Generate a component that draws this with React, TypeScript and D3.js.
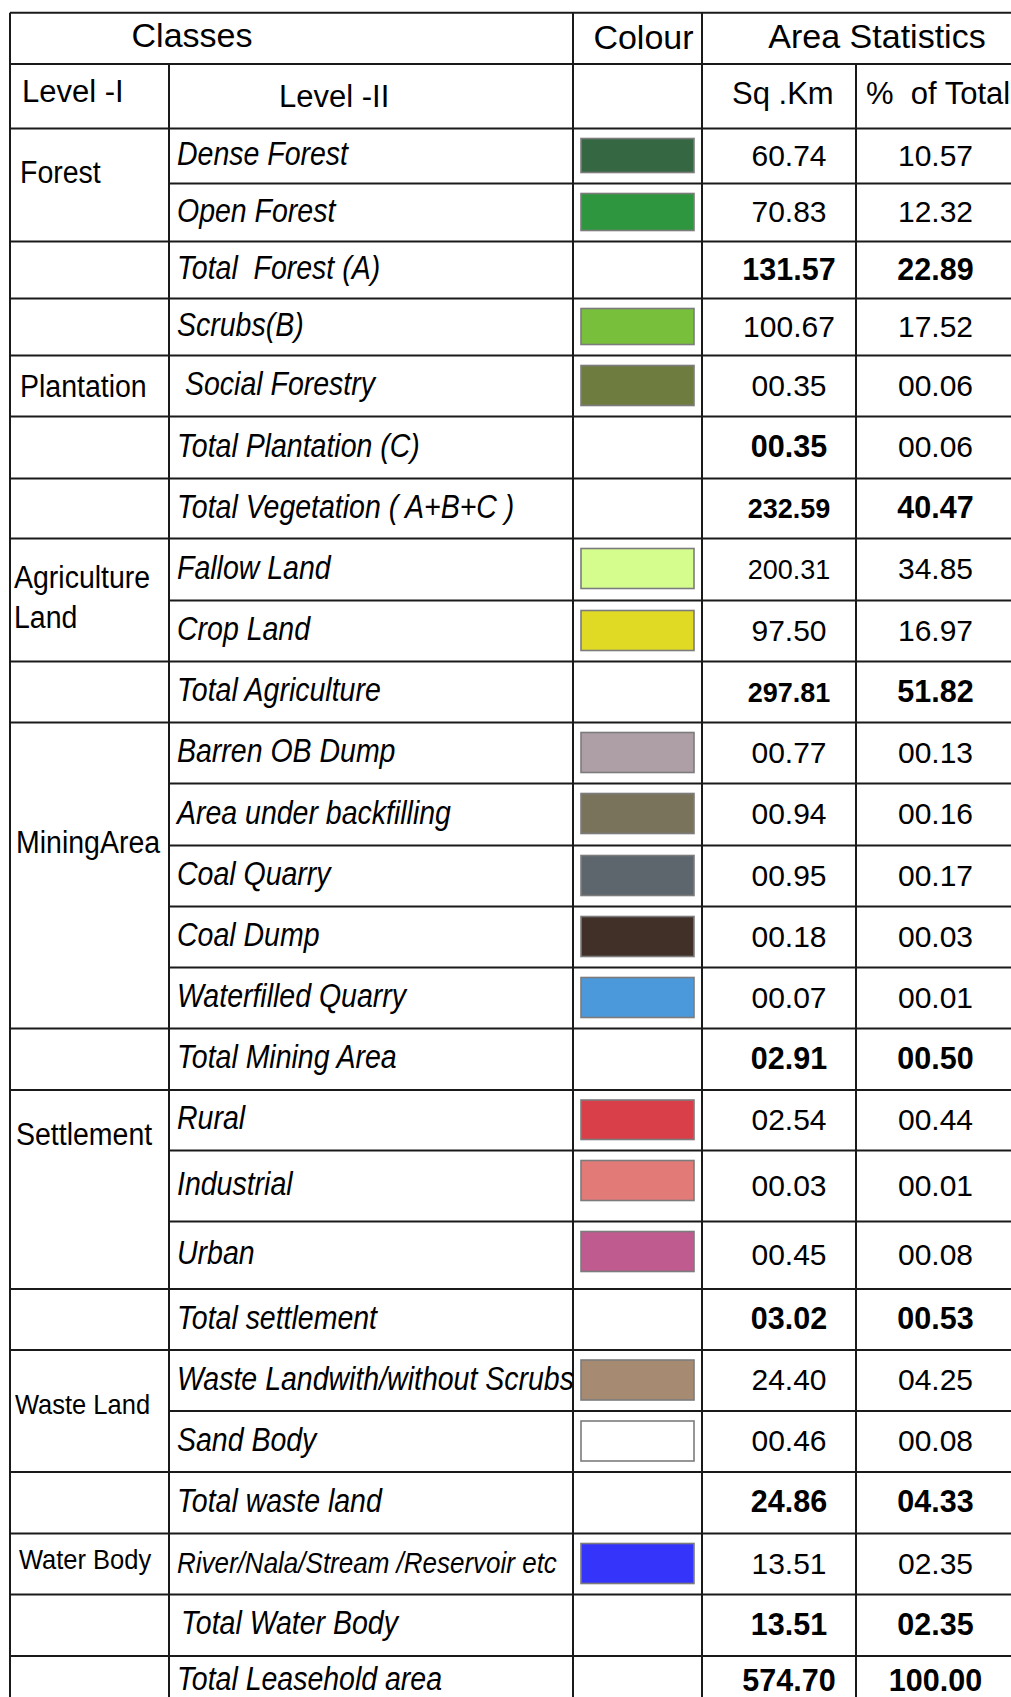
import React from "react";
import * as d3 from "d3";

// ---- table content ----
const headerTop = ["Classes", "Colour", "Area Statistics"];
const headerSub = ["Level -I", "Level -II", "Sq .Km", "%  of Total"];

const level1Classes = [
  "Forest", "", "", "Plantation", "", "", "Agriculture\nLand", "", "MiningArea", "",
  "Settlement", "", "Waste Land", "", "Water Body", "", "",
];
const level1Spans = [2, 1, 1, 1, 1, 1, 2, 1, 5, 1, 3, 1, 2, 1, 1, 1, 1];

const level2Classes = [
  "Dense Forest", "Open Forest", "Total  Forest (A)", "Scrubs(B)", "Social Forestry",
  "Total Plantation (C)", "Total Vegetation ( A+B+C )", "Fallow Land", "Crop Land",
  "Total Agriculture", "Barren OB Dump", "Area under backfilling", "Coal Quarry", "Coal Dump",
  "Waterfilled Quarry", "Total Mining Area", "Rural", "Industrial", "Urban", "Total settlement",
  "Waste Landwith/without Scrubs", "Sand Body", "Total waste land",
  "River/Nala/Stream /Reservoir etc", "Total Water Body", "Total Leasehold area",
];

const areaSqKm = [
  60.74, 70.83, 131.57, 100.67, 0.35, 0.35, 232.59, 200.31, 97.5, 297.81, 0.77, 0.94, 0.95,
  0.18, 0.07, 2.91, 2.54, 0.03, 0.45, 3.02, 24.4, 0.46, 24.86, 13.51, 13.51, 574.7,
];
const percentOfTotal = [
  10.57, 12.32, 22.89, 17.52, 0.06, 0.06, 40.47, 34.85, 16.97, 51.82, 0.13, 0.16, 0.17, 0.03,
  0.01, 0.5, 0.44, 0.01, 0.08, 0.53, 4.25, 0.08, 4.33, 2.35, 2.35, 100,
];
const classColours = [
  "#356842", "#2e963e", null, "#78c03c", "#6f7c40", null, null, "#d4fd8e", "#e0da25", null,
  "#ae9fa6", "#7a735b", "#5c666c", "#403028", "#4b99db", null, "#d93f48", "#e27b78", "#bf5b8f",
  null, "#a68a72", "#ffffff", null, "#3434fb", null, null,
];

// ---- layout / style ----
const W = 1011;
const H = 1697;
const FONT = "'Liberation Sans', Arial, Helvetica, sans-serif";
const colEdges = [10, 169, 573, 702, 856, W];
const headerLines = [12.7, 64, 128.5];
const rowHeights = [
  55, 58, 57, 57, 61, 62, 60, 62, 61, 61, 61, 62, 61, 61, 61, 61.5, 60.5, 71, 67.5, 61, 61, 61,
  61.5, 61, 61.5, 50,
];
// text in the source is a little condensed: keep widths, grow heights
const L2_SQUEEZE = 0.87;
const L1_SQUEEZE = 0.9;
// fine tuning of the level-I labels (offset from the group centre)
const level1Style: Record<string, { dy: number; size: number; x: number }> = {
  Forest: { dy: -2, size: 28.5, x: 20 },
  Plantation: { dy: 10.5, size: 28.5, x: 20 },
  "Agriculture\nLand": { dy: -12, size: 28.5, x: 14 },
  MiningArea: { dy: -23, size: 28.5, x: 16 },
  Settlement: { dy: -45, size: 28.5, x: 16 },
  "Waste Land": { dy: 3, size: 25.5, x: 15 },
  "Water Body": { dy: 5, size: 25.5, x: 19 },
};
const labelTweaks: Record<string, { dx?: number; size?: number }> = {
  "Social Forestry": { dx: 8 },
  "Total Water Body": { dx: 4 },
  "River/Nala/Stream /Reservoir etc": { size: 26 },
};
const smallSq = new Set(["Total Vegetation ( A+B+C )", "Fallow Land", "Total Agriculture"]);
const regularPct = new Set(["Total Plantation (C)"]);

const App: React.FC = () => {
  const fmt = d3.format("05.2f");
  const top0 = headerLines[2];
  const tops = [top0, ...Array.from(d3.cumsum(rowHeights), (d) => top0 + d)];
  const ends = Array.from(d3.cumsum(level1Spans));
  const starts = [0, ...ends.slice(0, -1)];
  const groupEnd = new Set(ends.map((e) => e - 1));
  const lastRow = level2Classes.length - 1;

  const xCol = d3.scaleOrdinal<string, number>()
    .domain(["left", "l1", "l2", "sq", "pct", "right"])
    .range(colEdges);
  const sqX = (xCol("sq") + xCol("pct")) / 2 + 10;
  const pctX = (xCol("pct") + xCol("right")) / 2 + 2;

  const stroke = "#1a1a1a";

  return (
    <svg
      width={W}
      height={H}
      style={{ position: "absolute", left: 0, top: 0, background: "#fff" }}
      fontFamily={FONT}
    >
      <rect width={W} height={H} fill="#fff" />

      {/* swatches */}
      {level2Classes.map((name, i) => {
        const c = classColours[i];
        if (!c) return null;
        const h = tops[i + 1] - tops[i];
        return (
          <rect
            key={"sw" + i}
            x={xCol("l2") + 8}
            y={tops[i] + 10}
            width={113}
            height={Math.min(h - 21, 40)}
            fill={c}
            stroke="#7c7c7c"
            strokeWidth={1.6}
          />
        );
      })}

      {/* grid */}
      <g stroke={stroke} strokeWidth={2}>
        <line x1={xCol("left")} x2={W} y1={headerLines[0]} y2={headerLines[0]} />
        <line x1={xCol("left")} x2={W} y1={headerLines[1]} y2={headerLines[1]} />
        <line x1={xCol("left")} x2={W} y1={headerLines[2]} y2={headerLines[2]} />
        {level2Classes.slice(0, lastRow).map((_, i) => (
          <line
            key={"h" + i}
            x1={groupEnd.has(i) ? xCol("left") : xCol("l1") - 1}
            x2={W}
            y1={tops[i + 1]}
            y2={tops[i + 1]}
          />
        ))}
        <line x1={xCol("left")} x2={xCol("left")} y1={headerLines[0]} y2={H} />
        <line x1={xCol("l1")} x2={xCol("l1")} y1={headerLines[1]} y2={H} />
        <line x1={xCol("l2")} x2={xCol("l2")} y1={headerLines[0]} y2={H} />
        <line x1={xCol("sq")} x2={xCol("sq")} y1={headerLines[0]} y2={H} />
        <line x1={xCol("pct")} x2={xCol("pct")} y1={headerLines[1]} y2={H} />
      </g>

      {/* headers */}
      <g fill="#000" fontSize={34} textAnchor="middle">
        <text x={192} y={47}>{headerTop[0]}</text>
        <text x={(xCol("l2") + xCol("sq")) / 2 + 6} y={49}>{headerTop[1]}</text>
        <text x={877} y={48}>{headerTop[2]}</text>
      </g>
      <g fill="#000" fontSize={31}>
        <text x={22} y={102}>{headerSub[0]}</text>
        <text x={279} y={107}>{headerSub[1]}</text>
        <text x={xCol("sq") + 30} y={104}>{headerSub[2]}</text>
        <text x={xCol("pct") + 10} y={104} xmlSpace="preserve">{headerSub[3]}</text>
      </g>

      {/* level I */}
      {level1Classes.map((name, g) => {
        if (!name) return null;
        const st = level1Style[name];
        const yc = (tops[starts[g]] + tops[ends[g]]) / 2 + st.dy;
        return (
          <text
            key={"l1" + g}
            transform={`translate(${st.x},${yc}) scale(${L1_SQUEEZE},1)`}
            fontSize={st.size / L1_SQUEEZE}
            fill="#000"
          >
            {name.split("\n").map((t, k) => (
              <tspan key={k} x={0} dy={k === 0 ? 0 : 40}>{t}</tspan>
            ))}
          </text>
        );
      })}

      {/* level II + numbers */}
      {level2Classes.map((name, i) => {
        const tw = labelTweaks[name] || {};
        const yc = (tops[i] + tops[i + 1]) / 2;
        const isTotal = name.startsWith("Total");
        const lx = xCol("l1") + 8 + (tw.dx || 0);
        return (
          <g key={"r" + i} fill="#000">
            <text
              transform={`translate(${lx},${yc + 9}) scale(${L2_SQUEEZE},1)`}
              fontSize={(tw.size || 28.5) / L2_SQUEEZE}
              fontStyle="italic"
              xmlSpace="preserve"
            >
              {name}
            </text>
            <text
              x={sqX}
              y={yc + 9.5}
              textAnchor="middle"
              fontSize={smallSq.has(name) ? 27 : isTotal ? 30.5 : 30}
              fontWeight={isTotal ? "bold" : "normal"}
            >
              {fmt(areaSqKm[i])}
            </text>
            <text
              x={pctX}
              y={yc + 9.5}
              textAnchor="middle"
              fontSize={isTotal && !regularPct.has(name) ? 30.5 : 30}
              fontWeight={isTotal && !regularPct.has(name) ? "bold" : "normal"}
            >
              {fmt(percentOfTotal[i])}
            </text>
          </g>
        );
      })}
    </svg>
  );
};

export default App;
